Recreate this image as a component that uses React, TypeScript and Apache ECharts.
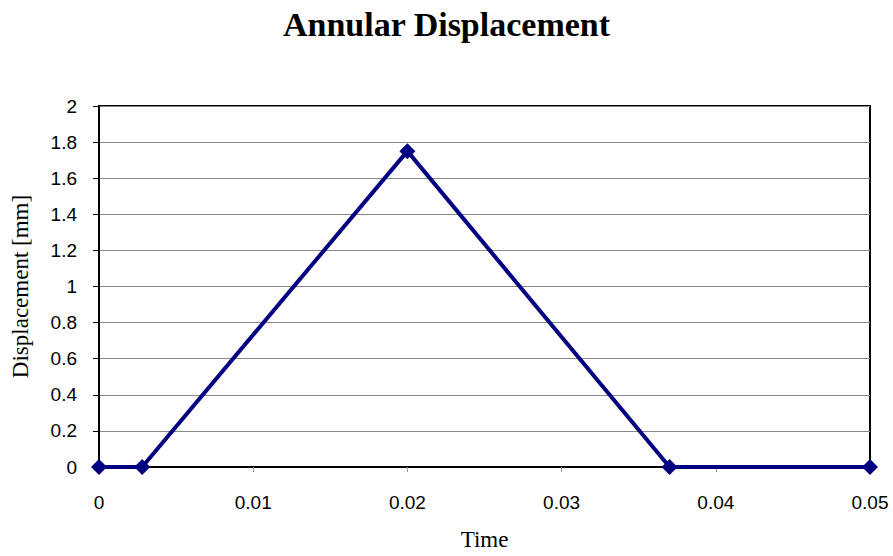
import React, { useEffect, useRef } from "react";
import * as echarts from "echarts";

// Sampled time instants and annular displacement in millimetres
const times = [0, 0.0028, 0.02, 0.037, 0.05];
const displacement = [0, 0, 1.75, 0, 0];

const titleText = "Annular Displacement";
const xName = "Time";
const yName = "Displacement [mm]";

export default function App() {
  const ref = useRef<HTMLDivElement>(null);

  useEffect(() => {
    if (!ref.current) return;
    const chart = echarts.init(ref.current, null, { renderer: "svg" });
    const points = times.map((t, i) => [t, displacement[i]]);
    chart.setOption({
      animation: false,
      backgroundColor: "#ffffff",
      title: {
        text: titleText,
        left: "center",
        top: 2,
        textStyle: {
          fontFamily: "Liberation Serif",
          fontSize: 34,
          fontWeight: "bold",
          color: "#000",
        },
      },
      grid: {
        left: 99,
        right: 23,
        top: 106,
        bottom: 86,
        show: true,
        borderColor: "#000",
        borderWidth: 2,
        backgroundColor: "#fff",
      },
      xAxis: {
        type: "value",
        min: 0,
        max: 0.05,
        interval: 0.01,
        name: xName,
        nameLocation: "middle",
        nameGap: 61,
        nameTextStyle: { fontFamily: "Liberation Serif", fontSize: 23, color: "#000" },
        axisLine: { show: true, onZero: false, lineStyle: { color: "#000", width: 2 } },
        axisTick: { show: true, inside: false, length: 5, lineStyle: { color: "#999" } },
        axisLabel: {
          margin: 26,
          fontFamily: "Liberation Sans",
          fontSize: 19,
          color: "#000",
        },
        splitLine: { show: false },
      },
      yAxis: {
        type: "value",
        min: 0,
        max: 2,
        interval: 0.2,
        name: yName,
        nameLocation: "middle",
        nameGap: 67,
        nameTextStyle: { fontFamily: "Liberation Serif", fontSize: 23, color: "#000" },
        axisLine: { show: true, lineStyle: { color: "#000", width: 2 } },
        axisTick: { show: true, inside: false, length: 6, lineStyle: { color: "#000" } },
        axisLabel: {
          margin: 22,
          fontFamily: "Liberation Sans",
          fontSize: 19,
          color: "#000",
        },
        splitLine: { show: true, lineStyle: { color: "#888", width: 1 } },
      },
      series: [
        {
          type: "line",
          data: points,
          symbol: "diamond",
          symbolSize: 16,
          lineStyle: { color: "#000080", width: 4 },
          itemStyle: { color: "#000080" },
          clip: false,
          z: 5,
        },
      ],
    });
    return () => chart.dispose();
  }, []);

  return (
    <div
      ref={ref}
      style={{ position: "fixed", left: 0, top: 0, width: 893, height: 556 }}
    />
  );
}
